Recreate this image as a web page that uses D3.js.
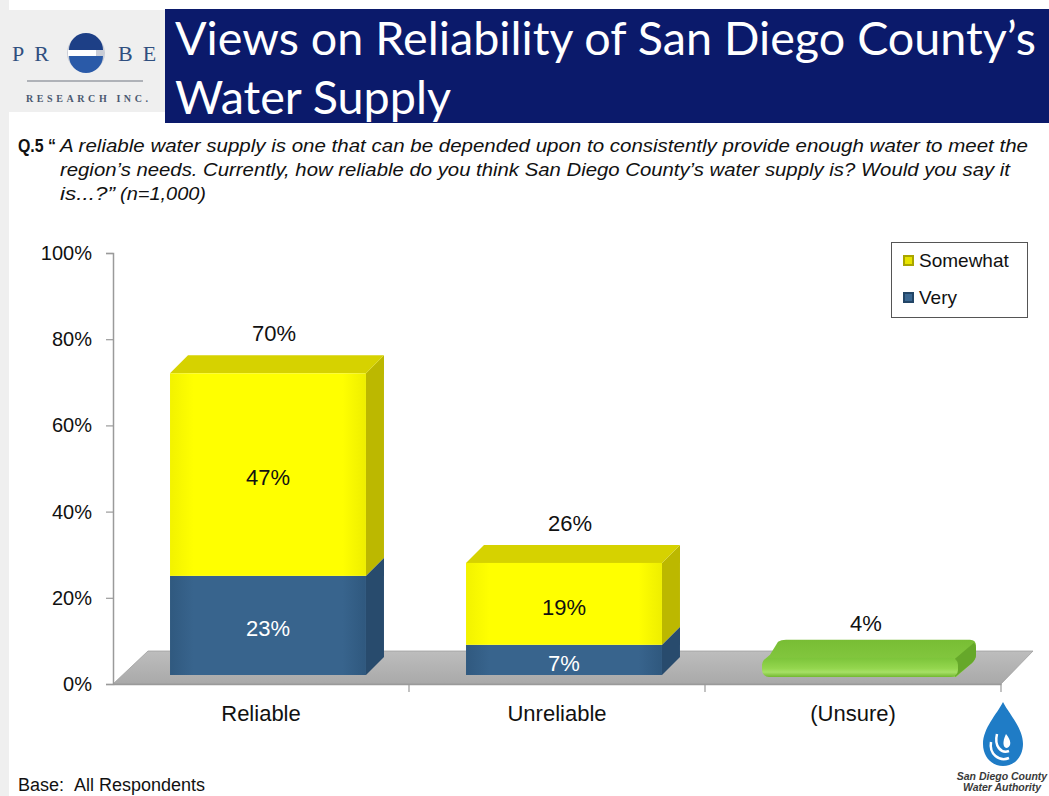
<!DOCTYPE html>
<html>
<head>
<meta charset="utf-8">
<script src="https://cdn.jsdelivr.net/npm/d3@7"></script>
<style>
  html, body { margin: 0; padding: 0; background: #ffffff; }
  svg { display: block; }
</style>
</head>
<body>
<svg id="chart" width="1049" height="796"></svg>
<script>
// ---- data ----
const categories = ["Reliable", "Unreliable", "(Unsure)"];
const seriesNames = ["Very", "Somewhat", "Unsure"];
const veryValues = [23, 7, 0];
const somewhatValues = [47, 19, 0];
const unsureValues = [0, 0, 4];
const totalLabels = ["70%", "26%", "4%"];
const yTicks = [0, 20, 40, 60, 80, 100];
const legendItems = ["Somewhat", "Very"];

const rows = categories.map((c, i) => ({
  category: c,
  Very: veryValues[i],
  Somewhat: somewhatValues[i],
  Unsure: unsureValues[i]
}));

const svg = d3.select("#chart");
const defs = svg.append("defs");

// ---- page frame ----
svg.append("rect").attr("x", 0).attr("y", 0).attr("width", 9).attr("height", 796).attr("fill", "#efefef");
svg.append("rect").attr("x", 8).attr("y", 10).attr("width", 160).attr("height", 102).attr("fill", "#efefef");
svg.append("rect").attr("x", 165).attr("y", 9).attr("width", 884).attr("height", 114).attr("fill", "#0b1a6b");

// title
const title = svg.append("g").attr("font-family", "Lato, 'Open Sans', sans-serif")
  .attr("font-size", 46).attr("fill", "#ffffff");
title.append("text").attr("x", 175).attr("y", 55)
  .attr("textLength", 861).attr("lengthAdjust", "spacingAndGlyphs")
  .text("Views on Reliability of San Diego County’s");
title.append("text").attr("x", 175).attr("y", 114)
  .attr("textLength", 276).attr("lengthAdjust", "spacingAndGlyphs")
  .text("Water Supply");

// company logo
const logo = svg.append("g");
const serif = "'Liberation Serif', 'DejaVu Serif', serif";
logo.append("text").attr("x", 12).attr("y", 61).attr("font-family", serif).attr("font-size", 22)
  .attr("fill", "#2f4f7f").attr("letter-spacing", 10).text("PR");
logo.append("text").attr("x", 118).attr("y", 61).attr("font-family", serif).attr("font-size", 22)
  .attr("fill", "#2f4f7f").attr("letter-spacing", 10).text("BE");
logo.append("circle").attr("cx", 86).attr("cy", 53).attr("r", 19).attr("fill", "#c9cdd6");
logo.append("path").attr("d", "M69,50 A17,17 0 0 1 103,50 Z").attr("fill", "#1d3f86");
logo.append("path").attr("d", "M69,56 A17,17 0 0 0 103,56 Z").attr("fill", "#2a5aa8");
logo.append("rect").attr("x", 68).attr("y", 50).attr("width", 28).attr("height", 6).attr("fill", "#ffffff");
logo.append("line").attr("x1", 27).attr("x2", 143).attr("y1", 81).attr("y2", 81)
  .attr("stroke", "#9a9ea6").attr("stroke-width", 1.5);
logo.append("text").attr("x", 26).attr("y", 102).attr("font-family", serif)
  .attr("font-size", 10).attr("font-weight", "bold").attr("fill", "#4a5870")
  .attr("textLength", 122).attr("lengthAdjust", "spacing").text("RESEARCH INC.");

// ---- question text ----
const narrow = "'Liberation Sans Narrow', 'Arial Narrow', 'Liberation Sans', sans-serif";
const q = svg.append("g").attr("font-family", narrow).attr("font-size", 19).attr("fill", "#111");
q.append("text").attr("x", 18).attr("y", 152).attr("font-weight", "bold")
  .attr("textLength", 38).attr("lengthAdjust", "spacingAndGlyphs").text("Q.5 “");
q.append("text").attr("x", 60).attr("y", 152).attr("font-style", "italic")
  .attr("textLength", 968).attr("lengthAdjust", "spacingAndGlyphs")
  .text("A reliable water supply is one that can be depended upon to consistently provide enough water to meet the");
q.append("text").attr("x", 60).attr("y", 176).attr("font-style", "italic")
  .attr("textLength", 950).attr("lengthAdjust", "spacingAndGlyphs")
  .text("region’s needs. Currently, how reliable do you think San Diego County’s water supply is? Would you say it");
q.append("text").attr("x", 60).attr("y", 200).attr("font-style", "italic")
  .attr("textLength", 55).attr("lengthAdjust", "spacingAndGlyphs").text("is...?”");
q.append("text").attr("x", 120).attr("y", 200).attr("font-style", "italic")
  .attr("textLength", 86).attr("lengthAdjust", "spacingAndGlyphs").text("(n=1,000)");

// ---- scales ----
const x = d3.scaleBand().domain(categories).range([113, 1001]).padding(0);
const y = d3.scaleLinear().domain([0, 100]).range([684, 253]);

const floorDepth = { dx: 35, dy: -33 };
const barShift = { dx: 7, dy: -9 };      // bar front plane inside the floor
const barDepth = { dx: 18, dy: -18 };
const barW = x.bandwidth() * 0.662;
const barX = c => x(c) + (x.bandwidth() - barW) / 2 + barShift.dx;
const barY = v => y(v) + barShift.dy;

// ---- gradients ----
function linGrad(id, stops, x2 = "100%", y2 = "0%") {
  const g = defs.append("linearGradient").attr("id", id)
    .attr("x1", "0%").attr("y1", "0%").attr("x2", x2).attr("y2", y2);
  stops.forEach(([o, c]) => g.append("stop").attr("offset", o).attr("stop-color", c));
}
linGrad("floorG", [["0%", "#bdbdbd"], ["100%", "#a9a9a9"]], "0%", "100%");
linGrad("yellowFront", [["0%", "#f2f200"], ["12%", "#ffff00"], ["88%", "#ffff00"], ["100%", "#eeee00"]]);
linGrad("blueFront", [["0%", "#30597f"], ["12%", "#38648d"], ["88%", "#38648d"], ["100%", "#2f587e"]]);
linGrad("greenFront", [["0%", "#7cc43a"], ["55%", "#94d64e"], ["75%", "#a6e066"], ["100%", "#72b830"]], "0%", "100%");
linGrad("greenTop", [["0%", "#78bd34"], ["100%", "#8ccf48"]], "0%", "100%");

const faceColors = {
  Somewhat: { front: "url(#yellowFront)", top: "#d6d200", side: "#bcb800" },
  Very: { front: "url(#blueFront)", top: "#2b5074", side: "#284b6d" },
  Unsure: { front: "url(#greenFront)", top: "url(#greenTop)", side: "#66a82a" }
};

// ---- floor ----
svg.append("path")
  .attr("d", `M113,${y(0)} L${113 + floorDepth.dx},${y(0) + floorDepth.dy} L${1001 + floorDepth.dx - 3},${y(0) + floorDepth.dy} L1001,${y(0)} Z`)
  .attr("fill", "url(#floorG)").attr("stroke", "#a0a0a0").attr("stroke-width", 0.8);

// ---- axes ----
const axisColor = "#9a9a9a";
const fontSans = "'Liberation Sans', Arial, sans-serif";
const yAxis = svg.append("g").attr("transform", "translate(113,0)")
  .call(d3.axisLeft(y).tickValues(yTicks).tickSize(7).tickPadding(14).tickFormat(d => d + "%"));
yAxis.select(".domain").attr("stroke", axisColor).attr("stroke-width", 1.5);
yAxis.selectAll(".tick line").attr("stroke", axisColor).attr("stroke-width", 1.2);
yAxis.selectAll(".tick text").attr("font-family", fontSans)
  .attr("font-size", 20).attr("fill", "#111");

const xAxis = svg.append("g").attr("transform", `translate(0,${y(0)})`)
  .call(d3.axisBottom(x).tickSize(0).tickPadding(21));
xAxis.select(".domain").attr("stroke", axisColor).attr("stroke-width", 1.5);
xAxis.selectAll(".tick text").attr("font-family", fontSans)
  .attr("font-size", 22).attr("fill", "#111");
// category separators
xAxis.selectAll("line.sep").data(categories).join("line").attr("class", "sep")
  .attr("x1", d => x(d) + x.bandwidth()).attr("x2", d => x(d) + x.bandwidth())
  .attr("y1", 0).attr("y2", 8).attr("stroke", axisColor).attr("stroke-width", 1.2);

// ---- bars ----
const stack = d3.stack().keys(seriesNames)(rows);
const bars = svg.append("g");
stack.forEach(series => {
  const key = series.key;
  series.forEach(seg => {
    const [v0, v1] = seg;
    if (v1 - v0 <= 0) return;
    const c = seg.data.category;
    const x0 = barX(c), x1 = x0 + barW;
    const yb = barY(v0) + (key === "Unsure" ? 2 : 0), yt = barY(v1);
    const col = faceColors[key];
    const { dx, dy } = barDepth;
    if (key === "Unsure") {
      // rounded slab
      bars.append("path")
        .attr("d", `M${x0 + 2},${yt + 3} Q${x0 + 4},${yt} ${x0 + 8},${yt - 3} L${x0 + dx - 2},${yt + dy + 2} Q${x0 + dx + 1},${yt + dy} ${x0 + dx + 6},${yt + dy} L${x1 + dx - 6},${yt + dy} Q${x1 + dx},${yt + dy} ${x1 + dx},${yt + dy + 6} L${x1 + dx},${yb + dy - 4} Q${x1 + dx},${yb + dy} ${x1 + dx - 4},${yb + dy + 4} L${x1 - 2},${yb} Z`)
        .attr("fill", col.top);
      bars.append("path")
        .attr("d", `M${x1 - 3},${yt + 1} L${x1 + dx - 2},${yt + dy + 3} Q${x1 + dx},${yt + dy + 5} ${x1 + dx},${yt + dy + 8} L${x1 + dx},${yb + dy - 4} Q${x1 + dx},${yb + dy} ${x1 + dx - 4},${yb + dy + 4} L${x1 - 3},${yb} Z`)
        .attr("fill", col.side);
      bars.append("rect").attr("x", x0).attr("y", yt).attr("width", barW).attr("height", yb - yt)
        .attr("rx", 7).attr("fill", col.front);
      return;
    }
    // right side face
    bars.append("path")
      .attr("d", `M${x1},${yb} L${x1 + dx},${yb + dy} L${x1 + dx},${yt + dy} L${x1},${yt} Z`)
      .attr("fill", col.side);
    // top face only on the highest segment
    if (v1 === d3.sum(seriesNames, k => seg.data[k])) {
      bars.append("path")
        .attr("d", `M${x0},${yt} L${x0 + dx},${yt + dy} L${x1 + dx},${yt + dy} L${x1},${yt} Z`)
        .attr("fill", col.top);
    }
    bars.append("rect").attr("x", x0).attr("y", yt).attr("width", barW).attr("height", yb - yt)
      .attr("fill", col.front);
    // segment value label
    bars.append("text")
      .attr("x", x0 + barW / 2).attr("y", (yt + yb) / 2 + 3).attr("dy", "0.35em")
      .attr("text-anchor", "middle").attr("font-family", fontSans)
      .attr("font-size", 22).attr("fill", key === "Very" ? "#ffffff" : "#111")
      .text(v1 - v0 + "%");
  });
});

// total labels above each bar
rows.forEach((r, i) => {
  const total = d3.sum(seriesNames, k => r[k]);
  svg.append("text")
    .attr("x", barX(r.category) + barW / 2 + 6)
    .attr("y", barY(total) - (total < 10 ? 34 : 40)).attr("dy", "0.35em")
    .attr("text-anchor", "middle").attr("font-family", fontSans)
    .attr("font-size", 22).attr("fill", "#111").text(totalLabels[i]);
});

// ---- legend ----
const legend = svg.append("g");
legend.append("rect").attr("x", 891.5).attr("y", 242.5).attr("width", 136).attr("height", 75)
  .attr("fill", "#fff").attr("stroke", "#555").attr("stroke-width", 1);
const legendSwatch = { Somewhat: ["#e8e400", "#a9a500"], Very: ["#3a6690", "#234566"] };
legendItems.forEach((name, i) => {
  const yy = 260 + i * 37;
  legend.append("rect").attr("x", 903).attr("y", yy - 5).attr("width", 11).attr("height", 11)
    .attr("fill", legendSwatch[name][1]);
  legend.append("rect").attr("x", 905).attr("y", yy - 3).attr("width", 7).attr("height", 7)
    .attr("fill", legendSwatch[name][0]);
  legend.append("text").attr("x", 919).attr("y", yy).attr("dy", "0.35em")
    .attr("font-family", fontSans).attr("font-size", 19)
    .attr("fill", "#111").text(name);
});

// ---- footer ----
svg.append("text").attr("x", 18).attr("y", 791).attr("font-family", fontSans)
  .attr("font-size", 18).attr("fill", "#111").text("Base:\u00a0\u00a0All Respondents");

// water authority mark
const wa = svg.append("g").attr("transform", "translate(1003,738)");
wa.append("path")
  .attr("d", "M0,-36 C6,-24 20,-10 20,6 C20,19 11,28 0,28 C-11,28 -20,19 -20,6 C-20,-10 -6,-24 0,-36 Z")
  .attr("fill", "#1f7cc6");
wa.append("path").attr("d", "M-12,4 C-14,16 -4,24 6,20").attr("fill", "none").attr("stroke", "#fff").attr("stroke-width", 2.5);
wa.append("path").attr("d", "M-6,-4 C-9,8 -2,16 6,13").attr("fill", "none").attr("stroke", "#fff").attr("stroke-width", 2.5);
wa.append("path").attr("d", "M3,-4 C8,2 9,8 4,10 C0,10 -1,4 3,-4 Z").attr("fill", "#fff");
const waText = svg.append("g").attr("font-family", fontSans)
  .attr("font-size", 10.5).attr("font-weight", "bold").attr("font-style", "italic")
  .attr("fill", "#3a3a3a").attr("text-anchor", "middle");
waText.append("text").attr("x", 1002).attr("y", 780).text("San Diego County");
waText.append("text").attr("x", 1002).attr("y", 791).text("Water Authority");
</script>
</body>
</html>
